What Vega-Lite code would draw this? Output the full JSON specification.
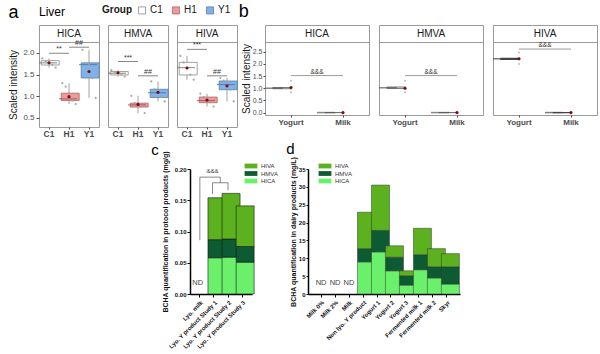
{
  "$schema": "https://vega.github.io/schema/vega-lite/v6.json",
  "padding": {"left": 8, "top": 2, "right": 0, "bottom": 0},
  "background": "white",
  "spacing": 4,
  "datasets": {
    "boxA": [
      {"acid": "HICA", "group": "C1", "min": 1.66, "q1": 1.72, "median": 1.77, "q3": 1.82, "max": 1.87, "mean": 1.77},
      {"acid": "HICA", "group": "H1", "min": 0.82, "q1": 0.90, "median": 0.94, "q3": 1.07, "max": 1.30, "mean": 0.99},
      {"acid": "HICA", "group": "Y1", "min": 0.96, "q1": 1.42, "median": 1.73, "q3": 1.77, "max": 2.07, "mean": 1.57},
      {"acid": "HMVA", "group": "C1", "min": 1.45, "q1": 1.49, "median": 1.53, "q3": 1.57, "max": 1.60, "mean": 1.54},
      {"acid": "HMVA", "group": "H1", "min": 0.61, "q1": 0.75, "median": 0.80, "q3": 0.84, "max": 1.01, "mean": 0.81},
      {"acid": "HMVA", "group": "Y1", "min": 0.88, "q1": 0.97, "median": 1.08, "q3": 1.16, "max": 1.34, "mean": 1.09},
      {"acid": "HIVA", "group": "C1", "min": 1.38, "q1": 1.49, "median": 1.66, "q3": 1.78, "max": 1.93, "mean": 1.65},
      {"acid": "HIVA", "group": "H1", "min": 0.76, "q1": 0.85, "median": 0.90, "q3": 0.98, "max": 1.06, "mean": 0.91},
      {"acid": "HIVA", "group": "Y1", "min": 0.88, "q1": 1.15, "median": 1.27, "q3": 1.35, "max": 1.42, "mean": 1.24}
    ],
    "ptsA": [
      {"acid": "HICA", "group": "C1", "rep": 1, "value": 1.87}, {"acid": "HICA", "group": "C1", "rep": 2, "value": 1.80}, {"acid": "HICA", "group": "C1", "rep": 3, "value": 1.77}, {"acid": "HICA", "group": "C1", "rep": 4, "value": 1.73}, {"acid": "HICA", "group": "C1", "rep": 5, "value": 1.66},
      {"acid": "HICA", "group": "H1", "rep": 1, "value": 1.30}, {"acid": "HICA", "group": "H1", "rep": 2, "value": 1.22}, {"acid": "HICA", "group": "H1", "rep": 3, "value": 0.93}, {"acid": "HICA", "group": "H1", "rep": 4, "value": 0.90}, {"acid": "HICA", "group": "H1", "rep": 5, "value": 0.82},
      {"acid": "HICA", "group": "Y1", "rep": 1, "value": 2.07}, {"acid": "HICA", "group": "Y1", "rep": 2, "value": 1.76}, {"acid": "HICA", "group": "Y1", "rep": 3, "value": 1.74}, {"acid": "HICA", "group": "Y1", "rep": 4, "value": 1.42}, {"acid": "HICA", "group": "Y1", "rep": 5, "value": 0.96},
      {"acid": "HMVA", "group": "C1", "rep": 1, "value": 1.60}, {"acid": "HMVA", "group": "C1", "rep": 2, "value": 1.56}, {"acid": "HMVA", "group": "C1", "rep": 3, "value": 1.53}, {"acid": "HMVA", "group": "C1", "rep": 4, "value": 1.50}, {"acid": "HMVA", "group": "C1", "rep": 5, "value": 1.45},
      {"acid": "HMVA", "group": "H1", "rep": 1, "value": 1.01}, {"acid": "HMVA", "group": "H1", "rep": 2, "value": 0.84}, {"acid": "HMVA", "group": "H1", "rep": 3, "value": 0.80}, {"acid": "HMVA", "group": "H1", "rep": 4, "value": 0.76}, {"acid": "HMVA", "group": "H1", "rep": 5, "value": 0.61},
      {"acid": "HMVA", "group": "Y1", "rep": 1, "value": 1.34}, {"acid": "HMVA", "group": "Y1", "rep": 2, "value": 1.16}, {"acid": "HMVA", "group": "Y1", "rep": 3, "value": 1.10}, {"acid": "HMVA", "group": "Y1", "rep": 4, "value": 0.98}, {"acid": "HMVA", "group": "Y1", "rep": 5, "value": 0.88},
      {"acid": "HIVA", "group": "C1", "rep": 1, "value": 1.93}, {"acid": "HIVA", "group": "C1", "rep": 2, "value": 1.78}, {"acid": "HIVA", "group": "C1", "rep": 3, "value": 1.66}, {"acid": "HIVA", "group": "C1", "rep": 4, "value": 1.50}, {"acid": "HIVA", "group": "C1", "rep": 5, "value": 1.38},
      {"acid": "HIVA", "group": "H1", "rep": 1, "value": 1.06}, {"acid": "HIVA", "group": "H1", "rep": 2, "value": 0.98}, {"acid": "HIVA", "group": "H1", "rep": 3, "value": 0.90}, {"acid": "HIVA", "group": "H1", "rep": 4, "value": 0.86}, {"acid": "HIVA", "group": "H1", "rep": 5, "value": 0.76},
      {"acid": "HIVA", "group": "Y1", "rep": 1, "value": 1.42}, {"acid": "HIVA", "group": "Y1", "rep": 2, "value": 1.36}, {"acid": "HIVA", "group": "Y1", "rep": 3, "value": 1.27}, {"acid": "HIVA", "group": "Y1", "rep": 4, "value": 1.15}, {"acid": "HIVA", "group": "Y1", "rep": 5, "value": 0.88}
    ],
    "sigA": [
      {"acid": "HICA", "from": "C1", "to": "H1", "y": 1.99, "label": "**"},
      {"acid": "HICA", "from": "H1", "to": "Y1", "y": 2.13, "label": "##"},
      {"acid": "HMVA", "from": "C1", "to": "H1", "y": 1.80, "label": "***"},
      {"acid": "HMVA", "from": "H1", "to": "Y1", "y": 1.47, "label": "##"},
      {"acid": "HIVA", "from": "C1", "to": "H1", "y": 2.08, "label": "***"},
      {"acid": "HIVA", "from": "H1", "to": "Y1", "y": 1.47, "label": "##"}
    ],
    "boxB": [
      {"acid": "HICA", "product": "Yogurt", "min": 0.97, "q1": 0.98, "median": 1.0, "q3": 1.03, "max": 1.05, "mean": 1.03},
      {"acid": "HICA", "product": "Milk", "min": 0, "q1": 0, "median": 0, "q3": 0, "max": 0, "mean": 0},
      {"acid": "HMVA", "product": "Yogurt", "min": 0.97, "q1": 0.99, "median": 1.02, "q3": 1.05, "max": 1.07, "mean": 1.0},
      {"acid": "HMVA", "product": "Milk", "min": 0, "q1": 0, "median": 0, "q3": 0, "max": 0, "mean": 0},
      {"acid": "HIVA", "product": "Yogurt", "min": 2.17, "q1": 2.19, "median": 2.21, "q3": 2.23, "max": 2.25, "mean": 2.21},
      {"acid": "HIVA", "product": "Milk", "min": 0, "q1": 0, "median": 0, "q3": 0, "max": 0, "mean": 0}
    ],
    "ptsB": [
      {"acid": "HICA", "product": "Yogurt", "value": 1.31}, {"acid": "HICA", "product": "Yogurt", "value": 1.02}, {"acid": "HICA", "product": "Yogurt", "value": 1.0}, {"acid": "HICA", "product": "Yogurt", "value": 0.98}, {"acid": "HICA", "product": "Yogurt", "value": 0.83},
      {"acid": "HICA", "product": "Milk", "value": 0}, {"acid": "HICA", "product": "Milk", "value": 0},
      {"acid": "HMVA", "product": "Yogurt", "value": 1.31}, {"acid": "HMVA", "product": "Yogurt", "value": 1.04}, {"acid": "HMVA", "product": "Yogurt", "value": 1.01}, {"acid": "HMVA", "product": "Yogurt", "value": 0.99}, {"acid": "HMVA", "product": "Yogurt", "value": 0.84},
      {"acid": "HMVA", "product": "Milk", "value": 0}, {"acid": "HMVA", "product": "Milk", "value": 0},
      {"acid": "HIVA", "product": "Yogurt", "value": 2.47}, {"acid": "HIVA", "product": "Yogurt", "value": 2.22}, {"acid": "HIVA", "product": "Yogurt", "value": 2.21}, {"acid": "HIVA", "product": "Yogurt", "value": 2.19}, {"acid": "HIVA", "product": "Yogurt", "value": 2.0},
      {"acid": "HIVA", "product": "Milk", "value": 0}, {"acid": "HIVA", "product": "Milk", "value": 0}
    ],
    "sigB": [
      {"acid": "HICA", "from": "Yogurt", "to": "Milk", "y": 1.52, "label": "&&&"},
      {"acid": "HMVA", "from": "Yogurt", "to": "Milk", "y": 1.52, "label": "&&&"},
      {"acid": "HIVA", "from": "Yogurt", "to": "Milk", "y": 2.61, "label": "&&&"}
    ],
    "barsC": [
      {"product": "Lyo. Y product Study 1", "acid": "HICA", "rank": 1, "value": 0.058},
      {"product": "Lyo. Y product Study 1", "acid": "HMVA", "rank": 2, "value": 0.029},
      {"product": "Lyo. Y product Study 1", "acid": "HIVA", "rank": 3, "value": 0.067},
      {"product": "Lyo. Y product Study 2", "acid": "HICA", "rank": 1, "value": 0.059},
      {"product": "Lyo. Y product Study 2", "acid": "HMVA", "rank": 2, "value": 0.029},
      {"product": "Lyo. Y product Study 2", "acid": "HIVA", "rank": 3, "value": 0.073},
      {"product": "Lyo. Y product Study 3", "acid": "HICA", "rank": 1, "value": 0.051},
      {"product": "Lyo. Y product Study 3", "acid": "HMVA", "rank": 2, "value": 0.025},
      {"product": "Lyo. Y product Study 3", "acid": "HIVA", "rank": 3, "value": 0.065}
    ],
    "bracketC": [
      {"x1": 0, "x2": 1.45, "y1": 0.187, "y2": 0.187},
      {"x1": 0, "x2": 0, "y1": 0.187, "y2": 0.086},
      {"x1": 1.45, "x2": 1.45, "y1": 0.187, "y2": 0.178},
      {"x1": 0.9, "x2": 2, "y1": 0.178, "y2": 0.178},
      {"x1": 0.9, "x2": 0.9, "y1": 0.178, "y2": 0.16},
      {"x1": 2, "x2": 2, "y1": 0.178, "y2": 0.166}
    ],
    "barsD": [
      {"product": "Non lyo. Y product", "acid": "HICA", "rank": 1, "value": 9.0},
      {"product": "Non lyo. Y product", "acid": "HMVA", "rank": 2, "value": 3.7},
      {"product": "Non lyo. Y product", "acid": "HIVA", "rank": 3, "value": 10.2},
      {"product": "Yogurt 1", "acid": "HICA", "rank": 1, "value": 11.8},
      {"product": "Yogurt 1", "acid": "HMVA", "rank": 2, "value": 6.0},
      {"product": "Yogurt 1", "acid": "HIVA", "rank": 3, "value": 12.7},
      {"product": "Yogurt 2", "acid": "HICA", "rank": 1, "value": 6.5},
      {"product": "Yogurt 2", "acid": "HMVA", "rank": 2, "value": 3.8},
      {"product": "Yogurt 2", "acid": "HIVA", "rank": 3, "value": 3.2},
      {"product": "Yogurt 3", "acid": "HICA", "rank": 1, "value": 2.5},
      {"product": "Yogurt 3", "acid": "HMVA", "rank": 2, "value": 2.6},
      {"product": "Yogurt 3", "acid": "HIVA", "rank": 3, "value": 1.4},
      {"product": "Fermented milk 1", "acid": "HICA", "rank": 1, "value": 6.8},
      {"product": "Fermented milk 1", "acid": "HMVA", "rank": 2, "value": 4.2},
      {"product": "Fermented milk 1", "acid": "HIVA", "rank": 3, "value": 7.4},
      {"product": "Fermented milk 2", "acid": "HICA", "rank": 1, "value": 4.5},
      {"product": "Fermented milk 2", "acid": "HMVA", "rank": 2, "value": 3.1},
      {"product": "Fermented milk 2", "acid": "HIVA", "rank": 3, "value": 5.1},
      {"product": "Skyr", "acid": "HICA", "rank": 1, "value": 2.8},
      {"product": "Skyr", "acid": "HMVA", "rank": 2, "value": 4.8},
      {"product": "Skyr", "acid": "HIVA", "rank": 3, "value": 3.7}
    ],
    "ndD": [
      {"product": "Milk 0%", "label": "ND"},
      {"product": "Milk 2%", "label": "ND"},
      {"product": "Milk", "label": "ND"}
    ]
  },
  "resolve": {
    "scale": {"color": "independent", "fill": "independent", "stroke": "independent"},
    "legend": {"color": "independent", "fill": "independent"}
  },
  "vconcat": [
    {
      "spacing": -1,
      "hconcat": [
        {
          "spacing": 6,
          "title": {"text": "a", "anchor": "start", "frame": "bounds", "fontSize": 18, "fontWeight": "normal", "offset": -16},
          "hconcat": [
            {
              "bounds": "flush",
              "spacing": 0,
              "title": {"text": "Liver", "anchor": "start", "frame": "group", "fontSize": 12, "fontWeight": "normal", "offset": 6},
              "vconcat": [
                {"width": 60, "height": 17, "data": {"values": [{"acid": "HICA"}]}, "mark": {"type": "text", "fontSize": 10, "color": "#1a1a1a"}, "encoding": {"text": {"field": "acid"}}, "view": {"stroke": "#9a9a9a", "fill": "#ffffff"}},
                {
                  "width": 60, "height": 85,
                  "view": {"stroke": "#9a9a9a"},
                  "layer": [
                    {"data": {"name": "boxA"}, "transform": [{"filter": "datum.acid == 'HICA'"}], "mark": {"type": "rule", "color": "#8c8c8c", "strokeWidth": 0.8},
                     "encoding": {
                       "x": {"field": "group", "type": "nominal", "scale": {"domain": ["C1", "H1", "Y1"], "paddingInner": 0, "paddingOuter": 0}, "axis": {"title": null, "labelAngle": 0, "labelFontSize": 8.5, "labelFontWeight": "bold", "labelColor": "#4d4d4d", "tickColor": "#4d4d4d", "tickSize": 2, "domain": false, "labelPadding": 0}},
                       "y": {"field": "min", "type": "quantitative", "scale": {"domain": [0.29, 2.25], "nice": false, "zero": false}, "axis": {"title": "Scaled intensity", "values": [0.5, 1, 1.5, 2], "tickCount": 20, "format": ".1f", "labelOverlap": false, "labelFontSize": 8, "labelColor": "#4d4d4d", "titleFontSize": 10, "titleFontWeight": "normal", "titleColor": "#1a1a1a", "tickColor": "#4d4d4d", "tickSize": 3, "domain": false, "grid": false, "labelPadding": 2, "titlePadding": 4}},
                       "y2": {"field": "max"}
                     }},
                    {"data": {"name": "boxA"}, "transform": [{"filter": "datum.acid == 'HICA'"}], "mark": {"type": "bar", "strokeWidth": 0.8, "width": {"band": 0.78}},
                     "encoding": {
                       "x": {"field": "group", "type": "nominal"},
                       "y": {"field": "q1", "type": "quantitative"},
                       "y2": {"field": "q3"},
                       "fill": {"field": "group", "type": "nominal", "scale": {"domain": ["C1", "H1", "Y1"], "range": ["#ffffff", "#ee9a9a", "#80b2e8"]},
                                "legend": {"orient": "none", "legendX": 63, "legendY": -20, "direction": "horizontal", "title": "Group", "titleOrient": "left", "titleFontSize": 10, "titleFontWeight": "bold", "titleColor": "#1a1a1a", "labelFontSize": 10, "labelColor": "#1a1a1a", "symbolType": "square", "symbolSize": 50, "symbolStrokeColor": "#777777", "symbolStrokeWidth": 0.8, "columnPadding": 7, "labelOffset": 3, "titlePadding": 5}},
                       "stroke": {"field": "group", "type": "nominal", "scale": {"domain": ["C1", "H1", "Y1"], "range": ["#8c8c8c", "#a86868", "#5a7fa8"]}, "legend": null}
                     }},
                    {"data": {"name": "boxA"}, "transform": [{"filter": "datum.acid == 'HICA'"}], "mark": {"type": "tick", "thickness": 1.2},
                     "encoding": {"x": {"field": "group", "type": "nominal"}, "y": {"field": "median", "type": "quantitative"},
                       "color": {"field": "group", "type": "nominal", "scale": {"domain": ["C1", "H1", "Y1"], "range": ["#6e6e6e", "#9b5050", "#4b6f9e"]}, "legend": null}}},
                    {"data": {"name": "ptsA"}, "transform": [{"filter": "datum.acid == 'HICA'"}], "mark": {"type": "point", "filled": true, "size": 5, "color": "#a0a0a0", "opacity": 0.9},
                     "encoding": {"x": {"field": "group", "type": "nominal"}, "xOffset": {"field": "rep", "type": "nominal", "scale": {"paddingOuter": 2}}, "y": {"field": "value", "type": "quantitative"}}},
                    {"data": {"name": "boxA"}, "transform": [{"filter": "datum.acid == 'HICA'"}], "mark": {"type": "point", "filled": true, "size": 10, "color": "#7a0f0f", "opacity": 1},
                     "encoding": {"x": {"field": "group", "type": "nominal"}, "y": {"field": "mean", "type": "quantitative"}}},
                    {"data": {"name": "sigA"}, "transform": [{"filter": "datum.acid == 'HICA'"}], "mark": {"type": "rule", "color": "#333333", "strokeWidth": 0.6},
                     "encoding": {"x": {"field": "from", "type": "nominal"}, "x2": {"field": "to"}, "y": {"field": "y", "type": "quantitative"}}},
                    {"data": {"name": "sigA"}, "transform": [{"filter": "datum.acid == 'HICA'"}], "mark": {"type": "text", "fontSize": 7, "dx": 10, "dy": -1, "baseline": "bottom", "color": "#333333"},
                     "encoding": {"x": {"field": "from", "type": "nominal"}, "y": {"field": "y", "type": "quantitative"}, "text": {"field": "label"}}}
                  ]
                }
              ]
            },
            {
              "bounds": "flush",
              "spacing": 0,
              "vconcat": [
                {"width": 60, "height": 17, "data": {"values": [{"acid": "HMVA"}]}, "mark": {"type": "text", "fontSize": 10, "color": "#1a1a1a"}, "encoding": {"text": {"field": "acid"}}, "view": {"stroke": "#9a9a9a", "fill": "#ffffff"}},
                {
                  "width": 60, "height": 85,
                  "view": {"stroke": "#9a9a9a"},
                  "layer": [
                    {"data": {"name": "boxA"}, "transform": [{"filter": "datum.acid == 'HMVA'"}], "mark": {"type": "rule", "color": "#8c8c8c", "strokeWidth": 0.8},
                     "encoding": {
                       "x": {"field": "group", "type": "nominal", "scale": {"domain": ["C1", "H1", "Y1"], "paddingInner": 0, "paddingOuter": 0}, "axis": {"title": null, "labelAngle": 0, "labelFontSize": 8.5, "labelFontWeight": "bold", "labelColor": "#4d4d4d", "tickColor": "#4d4d4d", "tickSize": 2, "domain": false, "labelPadding": 0}},
                       "y": {"field": "min", "type": "quantitative", "scale": {"domain": [0.29, 2.25], "nice": false, "zero": false}, "axis": null},
                       "y2": {"field": "max"}
                     }},
                    {"data": {"name": "boxA"}, "transform": [{"filter": "datum.acid == 'HMVA'"}], "mark": {"type": "bar", "strokeWidth": 0.8, "width": {"band": 0.78}},
                     "encoding": {
                       "x": {"field": "group", "type": "nominal"},
                       "y": {"field": "q1", "type": "quantitative"},
                       "y2": {"field": "q3"},
                       "fill": {"field": "group", "type": "nominal"},
                       "stroke": {"field": "group", "type": "nominal", "legend": null}
                     }},
                    {"data": {"name": "boxA"}, "transform": [{"filter": "datum.acid == 'HMVA'"}], "mark": {"type": "tick", "thickness": 1.2},
                     "encoding": {"x": {"field": "group", "type": "nominal"}, "y": {"field": "median", "type": "quantitative"}, "color": {"field": "group", "type": "nominal", "legend": null}}},
                    {"data": {"name": "ptsA"}, "transform": [{"filter": "datum.acid == 'HMVA'"}], "mark": {"type": "point", "filled": true, "size": 5, "color": "#a0a0a0", "opacity": 0.9},
                     "encoding": {"x": {"field": "group", "type": "nominal"}, "xOffset": {"field": "rep", "type": "nominal", "scale": {"paddingOuter": 2}}, "y": {"field": "value", "type": "quantitative"}}},
                    {"data": {"name": "boxA"}, "transform": [{"filter": "datum.acid == 'HMVA'"}], "mark": {"type": "point", "filled": true, "size": 10, "color": "#7a0f0f", "opacity": 1},
                     "encoding": {"x": {"field": "group", "type": "nominal"}, "y": {"field": "mean", "type": "quantitative"}}},
                    {"data": {"name": "sigA"}, "transform": [{"filter": "datum.acid == 'HMVA'"}], "mark": {"type": "rule", "color": "#333333", "strokeWidth": 0.6},
                     "encoding": {"x": {"field": "from", "type": "nominal"}, "x2": {"field": "to"}, "y": {"field": "y", "type": "quantitative"}}},
                    {"data": {"name": "sigA"}, "transform": [{"filter": "datum.acid == 'HMVA'"}], "mark": {"type": "text", "fontSize": 7, "dx": 10, "dy": -1, "baseline": "bottom", "color": "#333333"},
                     "encoding": {"x": {"field": "from", "type": "nominal"}, "y": {"field": "y", "type": "quantitative"}, "text": {"field": "label"}}}
                  ]
                }
              ]
            },
            {
              "bounds": "flush",
              "spacing": 0,
              "vconcat": [
                {"width": 60, "height": 17, "data": {"values": [{"acid": "HIVA"}]}, "mark": {"type": "text", "fontSize": 10, "color": "#1a1a1a"}, "encoding": {"text": {"field": "acid"}}, "view": {"stroke": "#9a9a9a", "fill": "#ffffff"}},
                {
                  "width": 60, "height": 85,
                  "view": {"stroke": "#9a9a9a"},
                  "layer": [
                    {"data": {"name": "boxA"}, "transform": [{"filter": "datum.acid == 'HIVA'"}], "mark": {"type": "rule", "color": "#8c8c8c", "strokeWidth": 0.8},
                     "encoding": {
                       "x": {"field": "group", "type": "nominal", "scale": {"domain": ["C1", "H1", "Y1"], "paddingInner": 0, "paddingOuter": 0}, "axis": {"title": null, "labelAngle": 0, "labelFontSize": 8.5, "labelFontWeight": "bold", "labelColor": "#4d4d4d", "tickColor": "#4d4d4d", "tickSize": 2, "domain": false, "labelPadding": 0}},
                       "y": {"field": "min", "type": "quantitative", "scale": {"domain": [0.29, 2.25], "nice": false, "zero": false}, "axis": null},
                       "y2": {"field": "max"}
                     }},
                    {"data": {"name": "boxA"}, "transform": [{"filter": "datum.acid == 'HIVA'"}], "mark": {"type": "bar", "strokeWidth": 0.8, "width": {"band": 0.78}},
                     "encoding": {
                       "x": {"field": "group", "type": "nominal"},
                       "y": {"field": "q1", "type": "quantitative"},
                       "y2": {"field": "q3"},
                       "fill": {"field": "group", "type": "nominal"},
                       "stroke": {"field": "group", "type": "nominal", "legend": null}
                     }},
                    {"data": {"name": "boxA"}, "transform": [{"filter": "datum.acid == 'HIVA'"}], "mark": {"type": "tick", "thickness": 1.2},
                     "encoding": {"x": {"field": "group", "type": "nominal"}, "y": {"field": "median", "type": "quantitative"}, "color": {"field": "group", "type": "nominal", "legend": null}}},
                    {"data": {"name": "ptsA"}, "transform": [{"filter": "datum.acid == 'HIVA'"}], "mark": {"type": "point", "filled": true, "size": 5, "color": "#a0a0a0", "opacity": 0.9},
                     "encoding": {"x": {"field": "group", "type": "nominal"}, "xOffset": {"field": "rep", "type": "nominal", "scale": {"paddingOuter": 2}}, "y": {"field": "value", "type": "quantitative"}}},
                    {"data": {"name": "boxA"}, "transform": [{"filter": "datum.acid == 'HIVA'"}], "mark": {"type": "point", "filled": true, "size": 10, "color": "#7a0f0f", "opacity": 1},
                     "encoding": {"x": {"field": "group", "type": "nominal"}, "y": {"field": "mean", "type": "quantitative"}}},
                    {"data": {"name": "sigA"}, "transform": [{"filter": "datum.acid == 'HIVA'"}], "mark": {"type": "rule", "color": "#333333", "strokeWidth": 0.6},
                     "encoding": {"x": {"field": "from", "type": "nominal"}, "x2": {"field": "to"}, "y": {"field": "y", "type": "quantitative"}}},
                    {"data": {"name": "sigA"}, "transform": [{"filter": "datum.acid == 'HIVA'"}], "mark": {"type": "text", "fontSize": 7, "dx": 10, "dy": -1, "baseline": "bottom", "color": "#333333"},
                     "encoding": {"x": {"field": "from", "type": "nominal"}, "y": {"field": "y", "type": "quantitative"}, "text": {"field": "label"}}}
                  ]
                }
              ]
            }
          ]
        },
        {
          "spacing": 8,
          "title": {"text": "b", "anchor": "start", "frame": "bounds", "fontSize": 18, "fontWeight": "normal", "offset": 4, "dx": -2},
          "hconcat": [
            {
              "bounds": "flush",
              "spacing": 0,
              "vconcat": [
                {"width": 104, "height": 17, "data": {"values": [{"acid": "HICA"}]}, "mark": {"type": "text", "fontSize": 10, "color": "#1a1a1a"}, "encoding": {"text": {"field": "acid"}}, "view": {"stroke": "#9a9a9a", "fill": "#ffffff"}},
                {
                  "width": 104, "height": 73,
                  "view": {"stroke": "#9a9a9a"},
                  "layer": [
                    {"data": {"name": "boxB"}, "transform": [{"filter": "datum.acid == 'HICA'"}], "mark": {"type": "rule", "color": "#777777", "strokeWidth": 0.8},
                     "encoding": {
                       "x": {"field": "product", "type": "nominal", "sort": ["Yogurt", "Milk"], "scale": {"domain": ["Yogurt", "Milk"], "paddingInner": 0, "paddingOuter": 0}, "axis": {"title": null, "labelAngle": 0, "labelFontSize": 8, "labelFontWeight": "bold", "labelColor": "#4d4d4d", "tickColor": "#4d4d4d", "tickSize": 2, "domain": false, "labelPadding": 1}},
                       "y": {"field": "min", "type": "quantitative", "scale": {"domain": [-0.1, 2.9], "nice": false, "zero": false}, "axis": {"title": "Scaled intensity", "values": [0, 0.5, 1, 1.5, 2, 2.5], "tickCount": 20, "format": ".1f", "labelOverlap": false, "labelFontSize": 7, "labelColor": "#4d4d4d", "titleFontSize": 10, "titleFontWeight": "normal", "titleColor": "#1a1a1a", "tickColor": "#4d4d4d", "tickSize": 2, "domain": false, "grid": false, "labelPadding": 1, "titlePadding": 1}},
                       "y2": {"field": "max"}
                     }},
                    {"data": {"name": "boxB"}, "transform": [{"filter": "datum.acid == 'HICA'"}], "mark": {"type": "bar", "strokeWidth": 0.9, "width": {"band": 0.7}, "fill": "#e6e6e6", "stroke": "#6e6e6e"},
                     "encoding": {"x": {"field": "product", "type": "nominal"}, "y": {"field": "q1", "type": "quantitative"}, "y2": {"field": "q3"}}},
                    {"data": {"name": "boxB"}, "transform": [{"filter": "datum.acid == 'HICA'"}], "mark": {"type": "tick", "thickness": 1.5, "color": "#555555"},
                     "encoding": {"x": {"field": "product", "type": "nominal"}, "y": {"field": "median", "type": "quantitative"}}},
                    {"data": {"name": "ptsB"}, "transform": [{"filter": "datum.acid == 'HICA'"}], "mark": {"type": "point", "filled": true, "size": 4, "color": "#a0a0a0"},
                     "encoding": {"x": {"field": "product", "type": "nominal"}, "y": {"field": "value", "type": "quantitative"}}},
                    {"data": {"name": "boxB"}, "transform": [{"filter": "datum.acid == 'HICA'"}], "mark": {"type": "point", "filled": true, "size": 10, "color": "#7a0f0f", "opacity": 1},
                     "encoding": {"x": {"field": "product", "type": "nominal"}, "y": {"field": "mean", "type": "quantitative"}}},
                    {"data": {"name": "sigB"}, "transform": [{"filter": "datum.acid == 'HICA'"}], "mark": {"type": "rule", "color": "#555555", "strokeWidth": 0.6},
                     "encoding": {"x": {"field": "from", "type": "nominal"}, "x2": {"field": "to"}, "y": {"field": "y", "type": "quantitative"}}},
                    {"data": {"name": "sigB"}, "transform": [{"filter": "datum.acid == 'HICA'"}], "mark": {"type": "text", "fontSize": 6.5, "dx": 26, "dy": -1, "baseline": "bottom", "color": "#333333"},
                     "encoding": {"x": {"field": "from", "type": "nominal"}, "y": {"field": "y", "type": "quantitative"}, "text": {"field": "label"}}}
                  ]
                }
              ]
            },
            {
              "bounds": "flush",
              "spacing": 0,
              "vconcat": [
                {"width": 104, "height": 17, "data": {"values": [{"acid": "HMVA"}]}, "mark": {"type": "text", "fontSize": 10, "color": "#1a1a1a"}, "encoding": {"text": {"field": "acid"}}, "view": {"stroke": "#9a9a9a", "fill": "#ffffff"}},
                {
                  "width": 104, "height": 73,
                  "view": {"stroke": "#9a9a9a"},
                  "layer": [
                    {"data": {"name": "boxB"}, "transform": [{"filter": "datum.acid == 'HMVA'"}], "mark": {"type": "rule", "color": "#777777", "strokeWidth": 0.8},
                     "encoding": {
                       "x": {"field": "product", "type": "nominal", "sort": ["Yogurt", "Milk"], "scale": {"domain": ["Yogurt", "Milk"], "paddingInner": 0, "paddingOuter": 0}, "axis": {"title": null, "labelAngle": 0, "labelFontSize": 8, "labelFontWeight": "bold", "labelColor": "#4d4d4d", "tickColor": "#4d4d4d", "tickSize": 2, "domain": false, "labelPadding": 1}},
                       "y": {"field": "min", "type": "quantitative", "scale": {"domain": [-0.1, 2.9], "nice": false, "zero": false}, "axis": null},
                       "y2": {"field": "max"}
                     }},
                    {"data": {"name": "boxB"}, "transform": [{"filter": "datum.acid == 'HMVA'"}], "mark": {"type": "bar", "strokeWidth": 0.9, "width": {"band": 0.7}, "fill": "#e6e6e6", "stroke": "#6e6e6e"},
                     "encoding": {"x": {"field": "product", "type": "nominal"}, "y": {"field": "q1", "type": "quantitative"}, "y2": {"field": "q3"}}},
                    {"data": {"name": "boxB"}, "transform": [{"filter": "datum.acid == 'HMVA'"}], "mark": {"type": "tick", "thickness": 1.5, "color": "#555555"},
                     "encoding": {"x": {"field": "product", "type": "nominal"}, "y": {"field": "median", "type": "quantitative"}}},
                    {"data": {"name": "ptsB"}, "transform": [{"filter": "datum.acid == 'HMVA'"}], "mark": {"type": "point", "filled": true, "size": 4, "color": "#a0a0a0"},
                     "encoding": {"x": {"field": "product", "type": "nominal"}, "y": {"field": "value", "type": "quantitative"}}},
                    {"data": {"name": "boxB"}, "transform": [{"filter": "datum.acid == 'HMVA'"}], "mark": {"type": "point", "filled": true, "size": 10, "color": "#7a0f0f", "opacity": 1},
                     "encoding": {"x": {"field": "product", "type": "nominal"}, "y": {"field": "mean", "type": "quantitative"}}},
                    {"data": {"name": "sigB"}, "transform": [{"filter": "datum.acid == 'HMVA'"}], "mark": {"type": "rule", "color": "#555555", "strokeWidth": 0.6},
                     "encoding": {"x": {"field": "from", "type": "nominal"}, "x2": {"field": "to"}, "y": {"field": "y", "type": "quantitative"}}},
                    {"data": {"name": "sigB"}, "transform": [{"filter": "datum.acid == 'HMVA'"}], "mark": {"type": "text", "fontSize": 6.5, "dx": 26, "dy": -1, "baseline": "bottom", "color": "#333333"},
                     "encoding": {"x": {"field": "from", "type": "nominal"}, "y": {"field": "y", "type": "quantitative"}, "text": {"field": "label"}}}
                  ]
                }
              ]
            },
            {
              "bounds": "flush",
              "spacing": 0,
              "vconcat": [
                {"width": 104, "height": 17, "data": {"values": [{"acid": "HIVA"}]}, "mark": {"type": "text", "fontSize": 10, "color": "#1a1a1a"}, "encoding": {"text": {"field": "acid"}}, "view": {"stroke": "#9a9a9a", "fill": "#ffffff"}},
                {
                  "width": 104, "height": 73,
                  "view": {"stroke": "#9a9a9a"},
                  "layer": [
                    {"data": {"name": "boxB"}, "transform": [{"filter": "datum.acid == 'HIVA'"}], "mark": {"type": "rule", "color": "#777777", "strokeWidth": 0.8},
                     "encoding": {
                       "x": {"field": "product", "type": "nominal", "sort": ["Yogurt", "Milk"], "scale": {"domain": ["Yogurt", "Milk"], "paddingInner": 0, "paddingOuter": 0}, "axis": {"title": null, "labelAngle": 0, "labelFontSize": 8, "labelFontWeight": "bold", "labelColor": "#4d4d4d", "tickColor": "#4d4d4d", "tickSize": 2, "domain": false, "labelPadding": 1}},
                       "y": {"field": "min", "type": "quantitative", "scale": {"domain": [-0.1, 2.9], "nice": false, "zero": false}, "axis": null},
                       "y2": {"field": "max"}
                     }},
                    {"data": {"name": "boxB"}, "transform": [{"filter": "datum.acid == 'HIVA'"}], "mark": {"type": "bar", "strokeWidth": 1.2, "width": {"band": 0.7}, "fill": "#cfcfcf", "stroke": "#444444"},
                     "encoding": {"x": {"field": "product", "type": "nominal"}, "y": {"field": "q1", "type": "quantitative"}, "y2": {"field": "q3"}}},
                    {"data": {"name": "boxB"}, "transform": [{"filter": "datum.acid == 'HIVA'"}], "mark": {"type": "tick", "thickness": 1.5, "color": "#444444"},
                     "encoding": {"x": {"field": "product", "type": "nominal"}, "y": {"field": "median", "type": "quantitative"}}},
                    {"data": {"name": "ptsB"}, "transform": [{"filter": "datum.acid == 'HIVA'"}], "mark": {"type": "point", "filled": true, "size": 4, "color": "#a0a0a0"},
                     "encoding": {"x": {"field": "product", "type": "nominal"}, "y": {"field": "value", "type": "quantitative"}}},
                    {"data": {"name": "boxB"}, "transform": [{"filter": "datum.acid == 'HIVA'"}], "mark": {"type": "point", "filled": true, "size": 10, "color": "#7a0f0f", "opacity": 1},
                     "encoding": {"x": {"field": "product", "type": "nominal"}, "y": {"field": "mean", "type": "quantitative"}}},
                    {"data": {"name": "sigB"}, "transform": [{"filter": "datum.acid == 'HIVA'"}], "mark": {"type": "rule", "color": "#555555", "strokeWidth": 0.6},
                     "encoding": {"x": {"field": "from", "type": "nominal"}, "x2": {"field": "to"}, "y": {"field": "y", "type": "quantitative"}}},
                    {"data": {"name": "sigB"}, "transform": [{"filter": "datum.acid == 'HIVA'"}], "mark": {"type": "text", "fontSize": 6.5, "dx": 26, "dy": -1, "baseline": "bottom", "color": "#333333"},
                     "encoding": {"x": {"field": "from", "type": "nominal"}, "y": {"field": "y", "type": "quantitative"}, "text": {"field": "label"}}}
                  ]
                }
              ]
            }
          ]
        }
      ]
    },
    {
      "bounds": "flush",
      "spacing": 56,
      "resolve": {"scale": {"color": "independent"}, "legend": {"color": "independent"}},
      "hconcat": [
        {"width": 95, "height": 125, "data": {"values": []}, "mark": "point"},
        {
          "width": 62, "height": 125,
          "title": {"text": "c", "anchor": "start", "frame": "bounds", "fontSize": 15, "fontWeight": "normal", "offset": -7, "dx": -10},
          "resolve": {"scale": {"x": "independent"}, "axis": {"x": "independent"}},
          "layer": [
            {"data": {"name": "barsC"}, "mark": {"type": "bar", "stroke": "#1a1a1a", "strokeWidth": 0.6},
             "encoding": {
               "x": {"field": "product", "type": "nominal",
                     "scale": {"domain": ["Lyo. milk", "Lyo. Y product Study 1", "Lyo. Y product Study 2", "Lyo. Y product Study 3"], "paddingInner": 0.15, "paddingOuter": 0.275},
                     "axis": {"title": null, "labelAngle": -45, "labelFontSize": 6, "labelFontWeight": "bold", "labelColor": "#111111", "domainColor": "#000000", "domainWidth": 1.5, "tickColor": "#000000", "tickSize": 3, "grid": false, "labelPadding": 2}},
               "y": {"field": "value", "type": "quantitative", "stack": "zero", "scale": {"domain": [0, 0.2], "nice": false},
                     "axis": {"title": "BCHA quantification in protocol products (mg/g)", "values": [0, 0.05, 0.1, 0.15, 0.2], "tickCount": 20, "format": ".2f", "labelOverlap": false, "labelFontSize": 6, "labelFontWeight": "bold", "labelColor": "#111111", "titleFontSize": 7, "titleFontWeight": "bold", "titleColor": "#111111", "domainColor": "#000000", "domainWidth": 1.5, "tickColor": "#000000", "tickSize": 3, "grid": false, "labelPadding": 1, "titlePadding": 6}},
               "color": {"field": "acid", "type": "nominal", "scale": {"domain": ["HIVA", "HMVA", "HICA"], "range": ["#5cb11f", "#0c5b32", "#6af06a"]},
                         "legend": {"orient": "none", "legendX": 57, "legendY": -7, "title": null, "symbolType": "M-1.6,-0.6H1.6V0.6H-1.6Z", "symbolSize": 64, "symbolStrokeWidth": 0, "labelFontSize": 6, "labelColor": "#333333", "rowPadding": 0.5, "labelOffset": 6}},
               "order": {"field": "rank", "type": "quantitative"}
             }},
            {"data": {"values": [{"product": "Lyo. milk", "label": "ND"}]}, "mark": {"type": "text", "fontSize": 7.5, "color": "#444444", "dy": -11},
             "encoding": {"x": {"field": "product", "type": "nominal", "scale": {"domain": ["Lyo. milk", "Lyo. Y product Study 1", "Lyo. Y product Study 2", "Lyo. Y product Study 3"], "paddingInner": 0.15, "paddingOuter": 0.275}, "axis": null}, "y": {"datum": 0}, "text": {"field": "label"}}},
            {"data": {"name": "bracketC"}, "mark": {"type": "rule", "color": "#555555", "strokeWidth": 0.7},
             "encoding": {"x": {"field": "x1", "type": "quantitative", "scale": {"domain": [-0.7, 3.7], "nice": false, "zero": false}, "axis": null}, "x2": {"field": "x2"}, "y": {"field": "y1", "type": "quantitative"}, "y2": {"field": "y2"}}},
            {"data": {"values": [{"label": "&&&", "x": 0.9, "y": 0.192}]}, "mark": {"type": "text", "fontSize": 6, "color": "#333333", "baseline": "bottom"},
             "encoding": {"x": {"field": "x", "type": "quantitative", "scale": {"domain": [-0.7, 3.7], "nice": false, "zero": false}, "axis": null}, "y": {"field": "y", "type": "quantitative"}, "text": {"field": "label"}}}
          ]
        },
        {
          "width": 152, "height": 125,
          "title": {"text": "d", "anchor": "start", "frame": "bounds", "fontSize": 15, "fontWeight": "normal", "offset": -1, "dx": -3},
          "layer": [
            {"data": {"name": "barsD"}, "mark": {"type": "bar", "stroke": "#333333", "strokeWidth": 0.5},
             "encoding": {
               "x": {"field": "product", "type": "nominal", "sort": ["Milk 0%", "Milk 2%", "Milk", "Non lyo. Y product", "Yogurt 1", "Yogurt 2", "Yogurt 3", "Fermented milk 1", "Fermented milk 2", "Skyr"],
                     "scale": {"domain": ["Milk 0%", "Milk 2%", "Milk", "Non lyo. Y product", "Yogurt 1", "Yogurt 2", "Yogurt 3", "Fermented milk 1", "Fermented milk 2", "Skyr"], "paddingInner": 0.21, "paddingOuter": 0.54},
                     "axis": {"title": null, "labelAngle": -45, "labelFontSize": 6, "labelFontWeight": "bold", "labelColor": "#111111", "domainColor": "#000000", "domainWidth": 1.5, "tickColor": "#000000", "tickSize": 3, "grid": false, "labelPadding": 2}},
               "y": {"field": "value", "type": "quantitative", "stack": "zero", "scale": {"domain": [0, 35], "nice": false},
                     "axis": {"title": "BCHA quantification in dairy products (mg/L)", "values": [0, 5, 10, 15, 20, 25, 30, 35], "tickCount": 20, "labelOverlap": false, "labelFontSize": 6, "labelFontWeight": "bold", "labelColor": "#111111", "titleFontSize": 7, "titleFontWeight": "bold", "titleColor": "#111111", "domainColor": "#000000", "domainWidth": 1.5, "tickColor": "#000000", "tickSize": 2, "grid": false, "labelPadding": 1, "titlePadding": 2}},
               "color": {"field": "acid", "type": "nominal", "scale": {"domain": ["HIVA", "HMVA", "HICA"], "range": ["#5cb11f", "#0c5b32", "#6af06a"]},
                         "legend": {"orient": "none", "legendX": 13, "legendY": -7, "title": null, "symbolType": "M-1.6,-0.6H1.6V0.6H-1.6Z", "symbolSize": 64, "symbolStrokeWidth": 0, "labelFontSize": 6, "labelColor": "#333333", "rowPadding": 0.5, "labelOffset": 6}},
               "order": {"field": "rank", "type": "quantitative"}
             }},
            {"data": {"name": "ndD"}, "mark": {"type": "text", "fontSize": 7.5, "color": "#444444", "dy": -11},
             "encoding": {"x": {"field": "product", "type": "nominal"}, "y": {"datum": 0}, "text": {"field": "label"}}}
          ]
        }
      ]
    }
  ],
  "config": {
    "font": "Liberation Sans",
    "view": {"stroke": null},
    "axis": {"grid": false},
    "title": {"font": "Liberation Sans", "fontWeight": "normal", "color": "#000000"}
  }
}
